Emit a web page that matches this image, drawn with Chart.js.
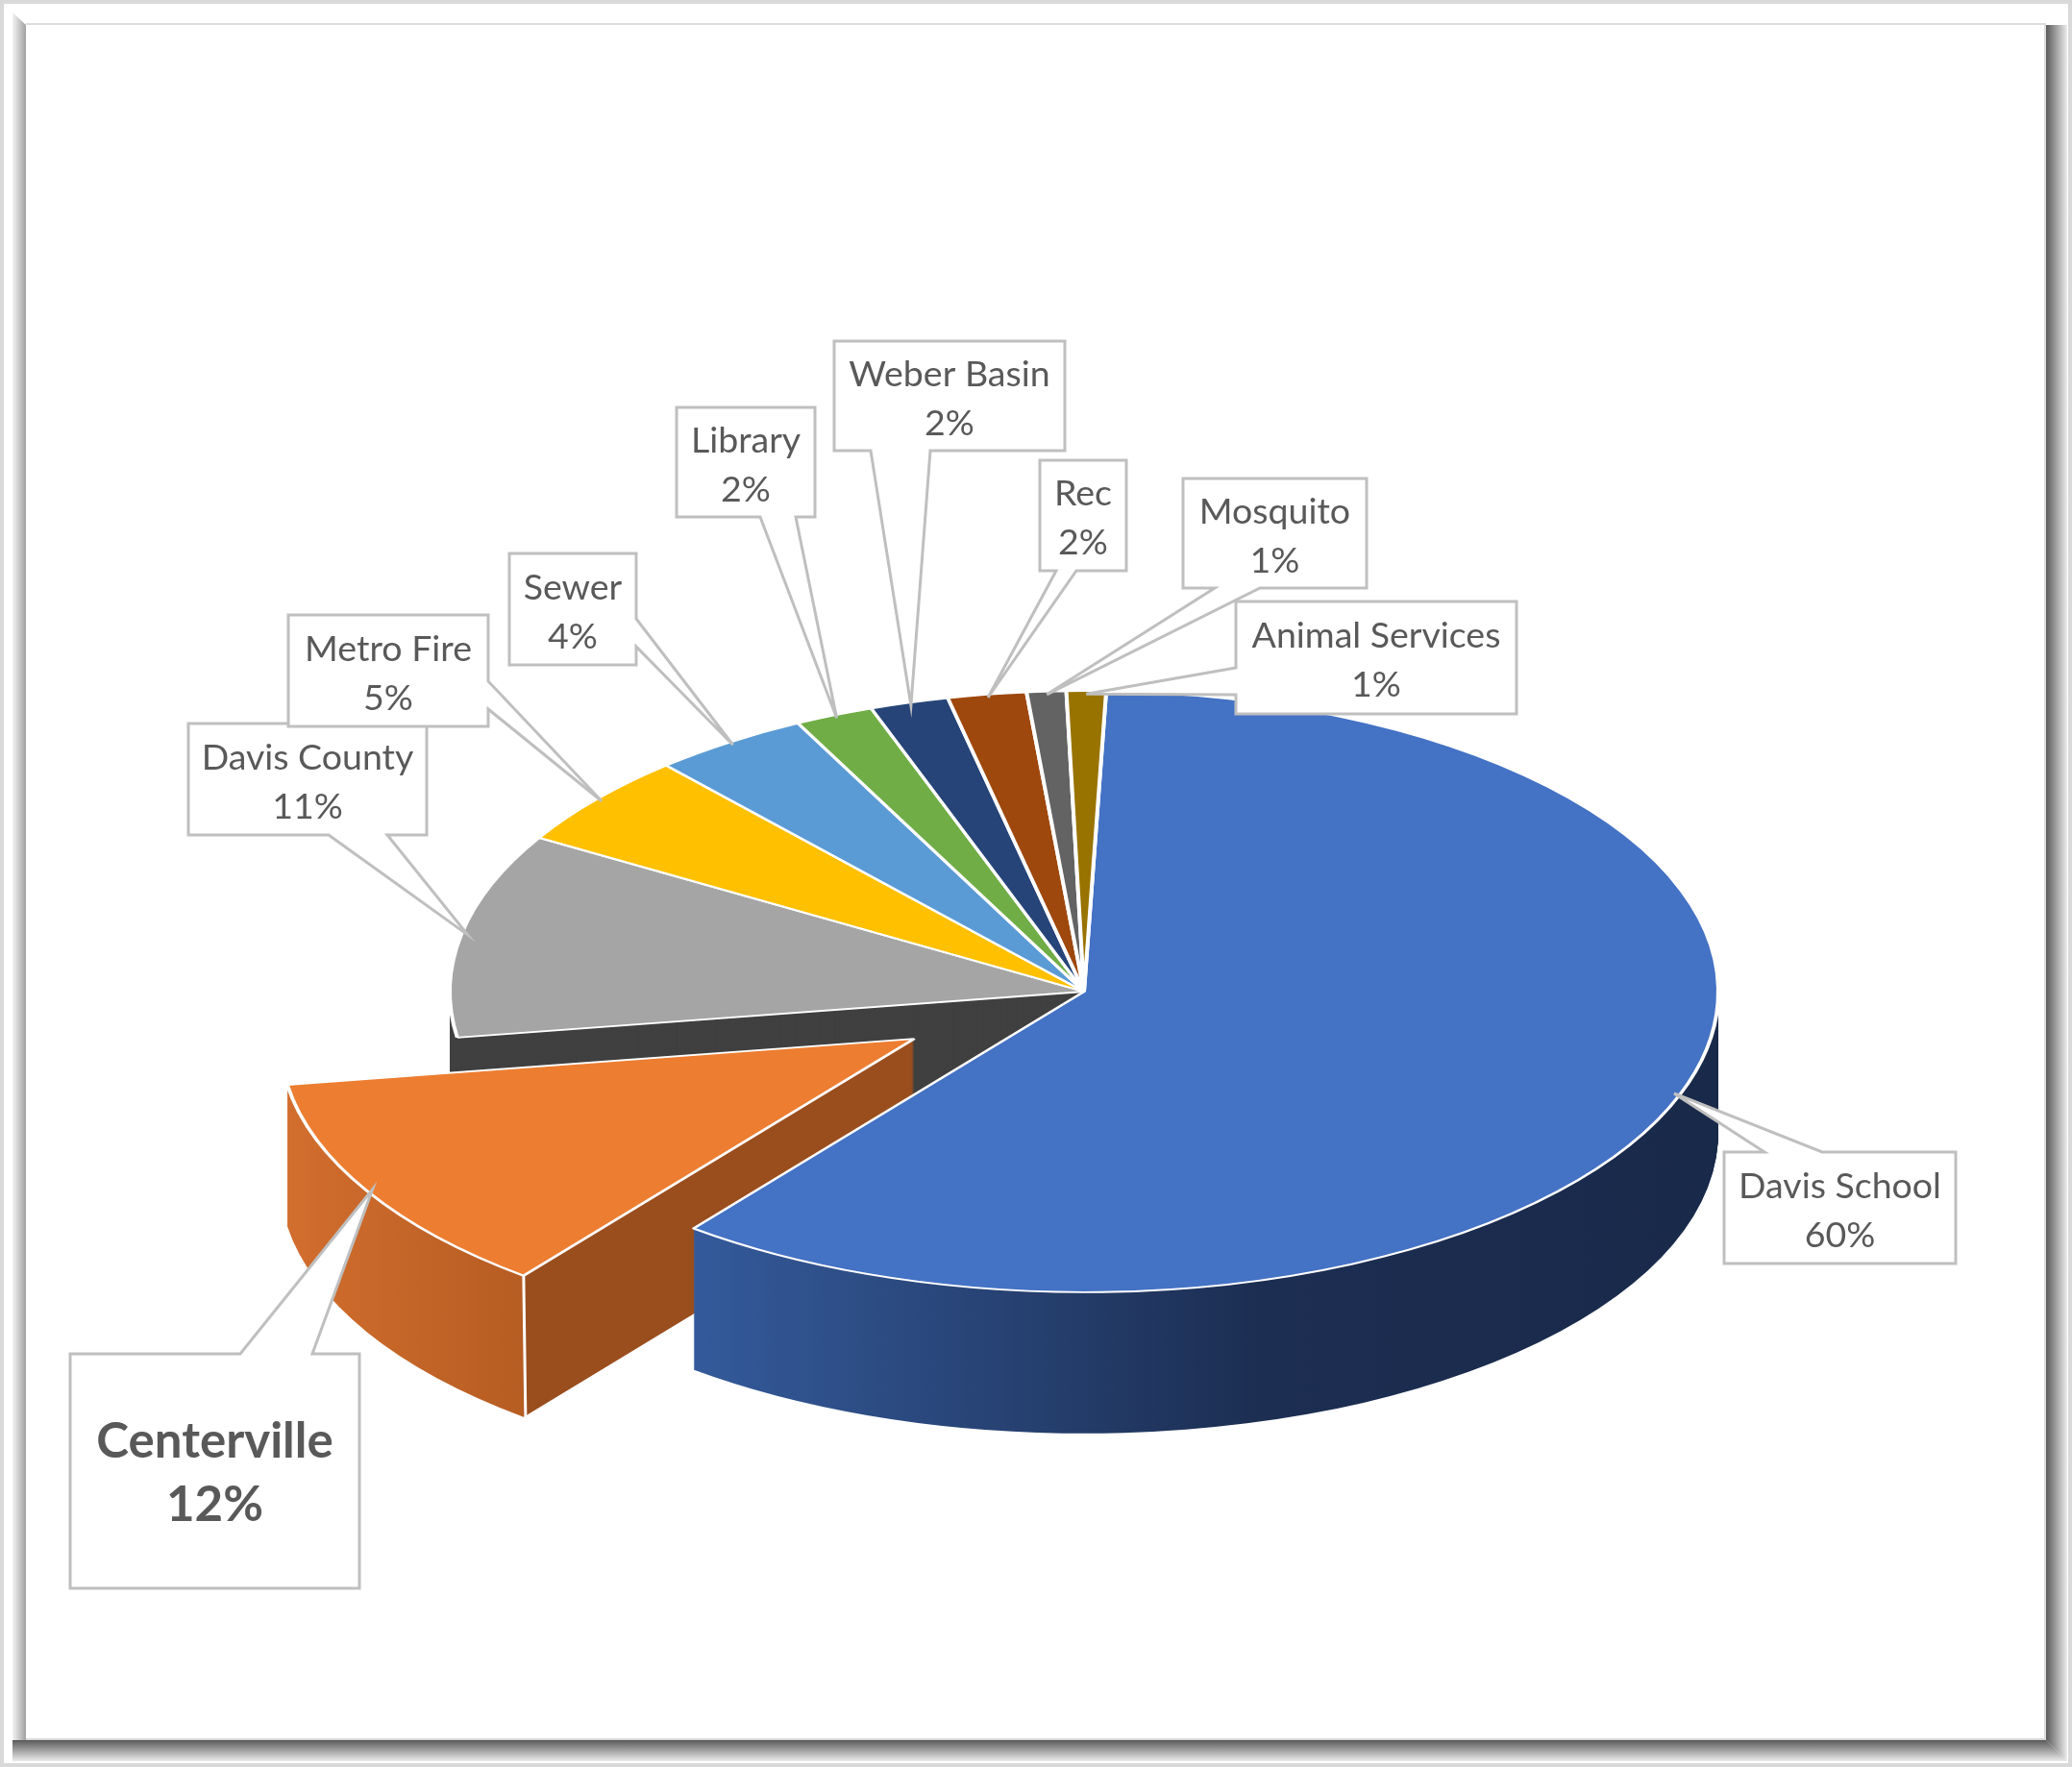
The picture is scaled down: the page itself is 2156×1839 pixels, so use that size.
<!DOCTYPE html>
<html>
<head>
<meta charset="utf-8">
<title>Property tax distribution</title>
<script src="https://cdn.jsdelivr.net/npm/chart.js@4.4.1/dist/chart.umd.min.js"></script>
<style>
  html, body { margin: 0; padding: 0; background: #fff; }
  canvas { display: block; }
</style>
</head>
<body>
<canvas id="taxPie" width="2156" height="1839"></canvas>
<script>
// Data
const entities = ['Davis School', 'Centerville', 'Davis County', 'Metro Fire', 'Sewer',
                  'Library', 'Weber Basin', 'Rec', 'Mosquito', 'Animal Services'];
const shares = [60, 12, 11, 5, 4, 2, 2, 2, 1, 1];

// Styles
const topColors = ['#4472C4', '#ED7D31', '#A5A5A5', '#FFC000', '#5B9BD5',
                   '#70AD47', '#264478', '#9E480E', '#636363', '#997300'];
const sideColors = ['#1c2e52', '#9a4e1e', '#404040', '#bf9000', '#41719c',
                    '#507e32', '#1a3257', '#74350a', '#4a4a4a', '#735600'];
const TILT = 0.474;      // vertical squash of the pie top
const DEPTH = 147;       // height of the side wall
const EXPLODE = 205;     // pull-out of the highlighted slice
const CENTER_Y = 1032;   // screen y of the pie top centre
const explodedIndex = 1; // Centerville

// label callouts: box + where the pointer leaves the box
const callouts = [
  { x: 1794, y: 1199, w: 241, h: 116, side: 'top',    b1: 1836, b2: 1896 },
  { x: 73,   y: 1409, w: 301, h: 244, side: 'top',    b1: 250,  b2: 325, bold: true },
  { x: 196,  y: 753,  w: 248, h: 116, side: 'bottom', b1: 342,  b2: 403 },
  { x: 300,  y: 640,  w: 208, h: 116, side: 'right',  b1: 709,  b2: 738 },
  { x: 530,  y: 576,  w: 132, h: 116, side: 'right',  b1: 644,  b2: 673 },
  { x: 704,  y: 424,  w: 144, h: 114, side: 'bottom', b1: 791,  b2: 828 },
  { x: 868,  y: 355,  w: 240, h: 114, side: 'bottom', b1: 906,  b2: 968 },
  { x: 1082, y: 479,  w: 90,  h: 115, side: 'bottom', b1: 1099, b2: 1120 },
  { x: 1231, y: 498,  w: 191, h: 114, side: 'bottom', b1: 1264, b2: 1311 },
  { x: 1286, y: 626,  w: 292, h: 117, side: 'left',   b1: 695,  b2: 723 }
];

function explodeShift(arc, i) {
  if (i !== explodedIndex) return { dx: 0, dy: 0 };
  const half = (arc.startAngle + arc.endAngle) / 2;
  return { dx: Math.cos(half) * EXPLODE, dy: Math.sin(half) * EXPLODE };
}

function wallFill(ctx, arc, i) {
  const s = explodeShift(arc, i);
  const cx = arc.x + s.dx;
  const r = arc.outerRadius;
  if (i === 0) {
    const left = cx + r * Math.cos(arc.endAngle);
    const g = ctx.createLinearGradient(left, 0, cx + r, 0);
    g.addColorStop(0, '#345a9b');
    g.addColorStop(0.55, '#1c2e52');
    g.addColorStop(1, '#19294a');
    return g;
  }
  if (i === explodedIndex) {
    const corner = cx + r * Math.cos(arc.startAngle);
    const g = ctx.createLinearGradient(cx - r, 0, corner + 1, 0);
    g.addColorStop(0, '#d36e2e');
    g.addColorStop(0.995, '#b65d23');
    g.addColorStop(1, '#9a4e1e');
    return g;
  }
  return sideColors[i];
}

const frame = {
  id: 'frame',
  beforeDraw(chart) {
    const ctx = chart.ctx, W = chart.width, H = chart.height;
    ctx.save();
    ctx.fillStyle = '#fff';
    ctx.fillRect(0, 0, W, H);
    ctx.strokeStyle = '#d9d9d9';
    ctx.lineWidth = 4;
    ctx.strokeRect(2, 2, W - 4, H - 4);
    // left bevel
    let g = ctx.createLinearGradient(13, 0, 27, 0);
    g.addColorStop(0, '#f4f4f4');
    g.addColorStop(1, '#a0a0a0');
    ctx.fillStyle = g;
    ctx.beginPath();
    ctx.moveTo(13, 13); ctx.lineTo(27, 26); ctx.lineTo(27, 1811); ctx.lineTo(13, 1811);
    ctx.fill();
    // right bevel
    g = ctx.createLinearGradient(2129, 0, 2151, 0);
    g.addColorStop(0, '#5a5a5a');
    g.addColorStop(1, '#ececec');
    ctx.fillStyle = g;
    ctx.beginPath();
    ctx.moveTo(2129, 26); ctx.lineTo(2151, 26); ctx.lineTo(2151, 1833); ctx.lineTo(2129, 1811);
    ctx.fill();
    // bottom bevel
    g = ctx.createLinearGradient(0, 1811, 0, 1833);
    g.addColorStop(0, '#5a5a5a');
    g.addColorStop(1, '#ececec');
    ctx.fillStyle = g;
    ctx.beginPath();
    ctx.moveTo(27, 1811); ctx.lineTo(2129, 1811); ctx.lineTo(2151, 1833); ctx.lineTo(13, 1833); ctx.lineTo(13, 1811);
    ctx.fill();
    ctx.strokeStyle = '#dcdcdc';
    ctx.lineWidth = 2;
    ctx.beginPath();
    ctx.moveTo(27, 25); ctx.lineTo(2129, 25);
    ctx.moveTo(27, 1810); ctx.lineTo(2129, 1810);
    ctx.moveTo(2128, 26); ctx.lineTo(2128, 1811);
    ctx.stroke();
    ctx.restore();
  }
};

const pie3d = {
  id: 'pie3d',
  beforeDatasetsDraw(chart) {
    const ctx = chart.ctx;
    const arcs = chart.getDatasetMeta(0).data;
    const fills = arcs.map((a, i) => wallFill(ctx, a, i));
    ctx.save();
    for (let d = DEPTH; d >= 1; d--) {
      arcs.forEach((a, i) => {
        const s = explodeShift(a, i);
        const cx = a.x + s.dx, cy = CENTER_Y + s.dy * TILT + d;
        ctx.beginPath();
        ctx.moveTo(cx, cy);
        ctx.ellipse(cx, cy, a.outerRadius, a.outerRadius * TILT, 0, a.startAngle, a.endAngle);
        ctx.closePath();
        ctx.fillStyle = fills[i];
        ctx.fill();
      });
    }
    // white edge on the front corner of the pulled-out slice
    const ex = arcs[explodedIndex], es = explodeShift(ex, explodedIndex);
    const kx = ex.x + es.dx + ex.outerRadius * Math.cos(ex.startAngle);
    const ky = CENTER_Y + es.dy * TILT + ex.outerRadius * TILT * Math.sin(ex.startAngle);
    ctx.strokeStyle = '#fff';
    ctx.lineWidth = 3;
    ctx.beginPath();
    ctx.moveTo(kx, ky); ctx.lineTo(kx + 2, ky + DEPTH);
    ctx.stroke();
    ctx.restore();

    // top faces, drawn by the arc elements themselves
    ctx.save();
    ctx.translate(0, CENTER_Y);
    ctx.scale(1, TILT);
    ctx.translate(0, -arcs[0].y);
    arcs.forEach((a, i) => {
      const s = explodeShift(a, i);
      ctx.save();
      ctx.translate(s.dx, s.dy);
      a.draw(ctx);
      ctx.restore();
    });
    ctx.restore();
    return false;
  },
  afterDraw(chart) {
    const ctx = chart.ctx;
    const arcs = chart.getDatasetMeta(0).data;
    const values = chart.data.datasets[0].data;
    ctx.save();
    arcs.forEach((a, i) => {
      const c = callouts[i];
      const s = explodeShift(a, i);
      const half = (a.startAngle + a.endAngle) / 2;
      const r = a.outerRadius * 0.99;
      const tx = a.x + s.dx + r * Math.cos(half);
      const ty = CENTER_Y + s.dy * TILT + r * TILT * Math.sin(half);
      const L = c.x, T = c.y, R = c.x + c.w, B = c.y + c.h;
      const pts = [[L, T]];
      if (c.side === 'top') pts.push([c.b1, T], [tx, ty], [c.b2, T]);
      pts.push([R, T]);
      if (c.side === 'right') pts.push([R, c.b1], [tx, ty], [R, c.b2]);
      pts.push([R, B]);
      if (c.side === 'bottom') pts.push([c.b2, B], [tx, ty], [c.b1, B]);
      pts.push([L, B]);
      if (c.side === 'left') pts.push([L, c.b2], [tx, ty], [L, c.b1]);
      ctx.beginPath();
      pts.forEach((p, k) => k ? ctx.lineTo(p[0], p[1]) : ctx.moveTo(p[0], p[1]));
      ctx.closePath();
      ctx.fillStyle = '#fff';
      ctx.fill();
      ctx.strokeStyle = '#bfbfbf';
      ctx.lineWidth = 3;
      ctx.lineJoin = 'miter';
      ctx.stroke();

      const gap = c.bold ? 66 : 51;
      const cy = T + c.h / 2 + 3;
      ctx.fillStyle = '#595959';
      ctx.textAlign = 'center';
      ctx.textBaseline = 'middle';
      ctx.font = c.bold ? 'bold 51px Lato' : '37.5px Lato';
      ctx.fillText(chart.data.labels[i], L + c.w / 2, cy - gap / 2);
      ctx.fillText(values[i] + '%', L + c.w / 2, cy + gap / 2);
    });
    ctx.restore();
  }
};

new Chart(document.getElementById('taxPie'), {
  type: 'pie',
  data: {
    labels: entities,
    datasets: [{
      data: shares,
      backgroundColor: topColors,
      borderColor: '#ffffff',
      borderWidth: 4
    }]
  },
  options: {
    responsive: false,
    animation: false,
    events: [],
    rotation: 2,
    radius: 660,
    layout: { padding: { left: 100 } },
    plugins: {
      legend: { display: false },
      tooltip: { enabled: false }
    }
  },
  plugins: [frame, pie3d]
});
</script>
</body>
</html>
